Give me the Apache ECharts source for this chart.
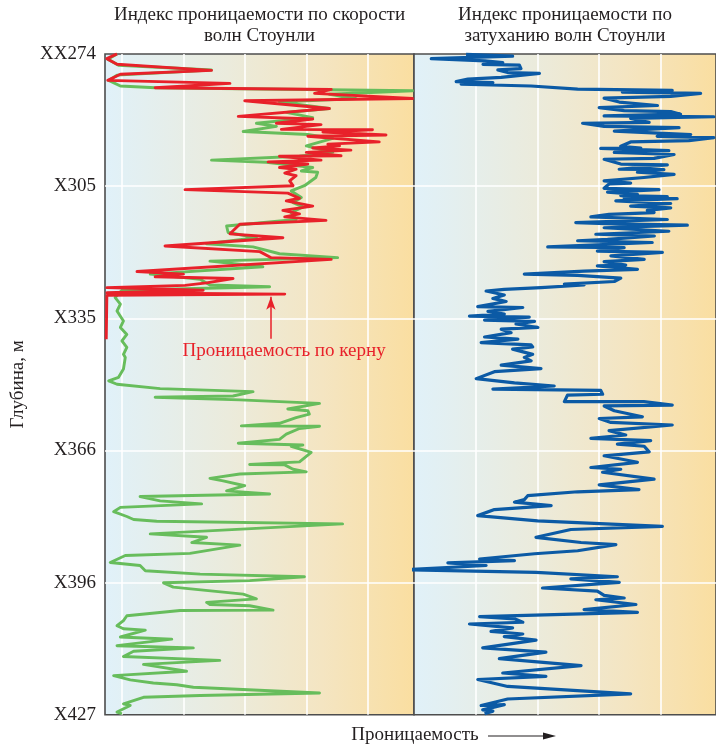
<!DOCTYPE html>
<html><head><meta charset="utf-8">
<script src="https://cdn.jsdelivr.net/npm/echarts@6/dist/echarts.min.js"></script>
<style>html,body{margin:0;padding:0;background:#fff}#c{width:716px;height:746px}</style>
</head><body><div id="c"></div>
<script>
// Depth axis (m): ticks every 30.48 m (100 ft)
const depthTickLabels = ['XX274', 'X305', 'X335', 'X366', 'X396', 'X427'];
const depthMin = 274.32;
const depthStep = 30.48;

// Core permeability (red), index units
const coreIndex = [-1.6,-4.9,-1.6,29.1,-0.5,-4.6,35.1,10.8,68,62.6,94.4,39.9,67.4,37.8,62,50.2,64.7,51.8,81.4,65.3,85.8,60.4,83.6,66.9,70.7,62,74.4,59.9,71.2,51.2,64.7,47.5,60.4,51.2,56.6,52.9,56.6,54.5,55.6,20.5,53.9,57.7,53.4,62,52.3,57.7,52.9,66.3,38.3,35.1,52.3,14.0,44.8,48.5,68,4.9,20,10.8,36.1,27.5,20.5,-4.9,26.4,-4.9,52.9,-4.9,-5.1];
const coreDepth = [274.3,275.4,276.7,278.1,279.0,280.4,281.1,282.1,282.5,283.4,284.6,285.1,286.9,288.7,289.3,290.3,290.6,291.7,291.8,292.3,293.0,293.3,294.6,295.1,295.5,296.0,296.5,297.0,297.8,297.9,298.8,299.2,299.7,300.5,300.9,301.8,302.4,303.6,304.7,305.6,306.4,307.6,308.2,309.4,310.4,311.2,311.9,312.7,313.6,315.8,316.7,318.6,319.9,321.3,321.7,324.5,325.1,325.7,326.1,327.1,327.7,328.2,328.8,329.4,329.7,330.0,340.1];

// Stoneley velocity permeability index (green)
const velIndex = [-1.6,-4.6,-1.1,29.1,-1.6,-4.3,-0.5,10.8,94.4,67.4,76.1,51.2,67.4,53.4,62,43.7,50.2,39.4,60.4,68.5,59.9,68.5,57.7,29.1,46.9,62,58.3,63.6,63,59.3,55,58.3,55.6,58.8,55,56.6,34,34.5,43.7,27.5,42.6,51.2,70.1,28.6,45.8,9.2,25.4,28.6,48,0,-2.2,-0.5,-1.6,0.5,-0.5,1.6,0,1.6,0.5,1.1,0.5,-1.1,-4.3,-1.6,12.4,42.6,36.1,10.8,38.3,64.2,53.9,60.4,60.9,56.6,51.2,38.8,64.2,57.7,53.4,51.2,37.8,58.8,55,61.5,57.7,41.5,52.9,55.6,59.9,38.3,28.6,32.9,39.9,34,48,5.9,12.4,25.9,-0.5,-2.7,1.6,3.8,11.3,71.7,9.2,27.5,22.7,38.3,22.1,1.1,-3.8,5.9,7.6,25.4,59.3,41.5,13.5,16.7,39.4,43.7,27.5,28.6,41.5,49.1,18.9,1.6,0.5,-1.6,0.5,7.6,-0.5,16.2,-1.6,23.2,3.8,0.5,31.8,7,21,-2.7,2.7,10.2,17.8,23.2,64.2,25.4,7,0.5,2.7,-1.6,0];
const velDepth = [274.3,275.5,276.9,278.0,279.2,280.4,281.7,282.1,282.8,283.6,284.6,285.4,286.9,287.8,289.0,290.3,291.0,292.2,292.9,293.8,295.5,297.0,297.9,298.8,299.3,300.5,301.3,301.6,302.8,304.7,305.9,307.4,308.6,309.6,310.9,312.5,314.0,315.5,316.7,318.1,318.8,320.4,321.3,322.1,323.4,325.1,326.3,327.6,328.0,328.8,330.5,332.0,333.6,335.9,337.4,339.0,340.5,342.0,343.6,344.3,347.0,348.9,349.7,350.5,351.5,352.2,353.2,353.5,354.1,354.9,356.2,356.6,357.4,358.2,359.5,360.1,360.2,360.7,362.0,363.2,364.1,364.5,364.8,366.2,368.4,369.0,369.1,370.1,370.7,371.2,372.2,372.8,373.9,375.1,375.8,376.4,377.4,378.1,378.9,379.9,381.0,381.7,382.1,382.7,385.0,385.8,387.0,387.6,389.5,390.0,391.6,392.3,393.5,394.3,394.9,395.8,396.3,397.3,398.9,400.0,400.8,401.3,401.6,402.6,402.7,403.9,405.0,406.2,406.9,407.2,408.8,409.3,410.8,411.3,412.1,413.3,414.2,415.1,416.7,417.7,418.7,419.4,419.8,420.4,421.7,422.3,422.7,424.2,424.6,426.1,426.5];

// Stoneley attenuation permeability index (blue)
const attIndex = [16.9,32,5.6,23,28.8,22.4,34.2,34.7,27.2,30.4,40.7,28.3,17.5,13.7,25.6,15.3,38,53.1,83.8,67.6,93,83.3,61.7,66.6,79,60.1,68.2,83.3,86.5,61.7,97.3,70.3,76.3,54.7,61.7,86,65,89.8,78.9,97.3,89.2,70.3,67.1,73.6,60.6,82.7,65,84.4,77.9,61.7,67.1,82.2,66.6,81.1,72.5,84.4,74.6,61.7,70.3,63.3,61.7,79.5,62.8,72.5,67.1,82.2,68.2,85.4,65.5,83.3,70.3,83.3,75.7,77.9,63.3,57.4,82.2,52.5,65,88.7,61.7,82.7,59,78,62.8,53.1,77.3,43.4,68.2,59.5,80.6,63.9,74.7,61.7,68.7,59.5,72.5,55.2,35.8,53.1,67.1,65,48.8,55.2,41.2,29.3,23.4,29.3,25.6,29.9,20.7,35.3,24,29.3,18,37.4,22.9,39.1,33.1,40.2,28.3,31.5,22.9,33.7,21.8,38,38.5,32,38.5,35.8,38,28.3,41.2,26.1,20.2,32.6,45.5,25.6,60.6,61.2,49.8,48.8,74.6,83.8,61.7,65,74.1,60.1,63.9,83.8,63.3,68.7,57.4,76.8,66,74.7,76.3,61.7,72.5,57.4,67.1,61.2,77.9,60.1,73,53.1,36.9,35.8,32.6,44.5,26.1,20.7,40.1,80.6,50.9,39.6,54.2,65.5,53.1,39.1,21.3,32.6,11,23.4,-3.0,39.6,66,50.9,66.6,41.7,59.5,61.7,68.2,59,72,55.2,72.5,21.3,32.6,35.3,18,32,25,35.3,29.3,39.6,22.3,42.8,27.7,54.2,28.8,42.8,20.7,30.4,70.3,30.4,21.8,29.3,22.3,25.6,22.9];
const attDepth = [274.4,274.8,275.4,275.9,276.3,276.7,276.9,277.7,278.0,278.6,278.8,279.7,280.1,280.7,280.9,281.3,281.7,282.4,282.7,283.1,283.4,284.1,284.5,285.4,286.2,286.7,287.4,287.6,288.2,288.6,288.8,289.2,290.1,290.3,291.0,291.3,292.1,292.9,293.3,293.6,294.3,294.6,295.6,296.0,296.1,296.6,297.0,297.5,298.4,298.6,299.7,299.9,300.9,301.0,301.6,302.1,302.8,303.6,304.1,304.3,305.3,305.6,306.2,306.7,307.0,307.2,307.5,307.7,308.2,308.8,309.4,309.8,310.4,310.9,311.3,311.9,312.5,313.2,313.5,313.8,314.4,315.2,315.9,316.3,317.1,317.4,317.8,318.8,319.0,319.8,320.1,320.9,321.7,322.2,323.0,323.2,324.0,324.4,325.1,325.4,326.0,326.8,327.4,327.6,328.2,328.6,329.0,329.9,330.7,331.4,332.6,332.8,333.7,334.3,334.8,335.0,335.7,336.0,336.6,337.4,337.8,338.6,339.6,340.1,340.9,341.4,341.9,342.4,343.6,344.3,345.1,346.1,346.9,347.6,349.2,350.2,350.9,351.6,351.9,352.8,353.0,354.5,354.5,355.3,355.5,356.6,358.0,358.4,359.3,359.9,361.2,362.2,363.0,363.5,364.3,364.8,366.1,367.0,368.5,369.7,370.1,370.8,372.4,373.7,374.8,375.3,376.2,377.1,377.7,378.5,379.4,380.8,382.0,383.3,384.0,385.8,387.0,387.5,388.9,389.6,390.8,391.2,391.7,392.3,393.3,393.9,394.9,395.4,396.2,397.5,398.2,399.2,399.8,400.2,401.3,402.5,403.1,404.1,404.6,405.4,405.8,406.7,407.5,408.1,408.7,409.5,411.3,412.3,413.8,415.4,417.1,417.9,418.6,420.2,421.9,423.1,424.6,424.4,425.6,425.9,426.5];

// Annotation (core arrow)
const coreArrowIndex = 48.4;
const coreArrowFrom = 340.0;
const coreArrowTo = 330.3;
const coreNoteText = 'Проницаемость по керну';
const coreNotePos = [52.7, 342.8];

const titles = ['Индекс проницаемости по скорости\nволн Стоунли', 'Индекс проницаемости по\nзатуханию волн Стоунли'];
const depthName = 'Глубина, м';
const xName = 'Проницаемость';

const FONT = '"Liberation Serif", "Times New Roman", serif';
const FS = 19;
const TXT = '#231f20';
const pairs = (xs, ys) => xs.map((v, i) => [v, ys[i]]);

const chart = echarts.init(document.getElementById('c'));
const bg = () => new echarts.graphic.LinearGradient(0, 0, 1, 0, [
  { offset: 0, color: '#e0f1f9' },
  { offset: 0.4, color: '#ebebdc' },
  { offset: 0.7, color: '#f4e5c2' },
  { offset: 1, color: '#fadea0' }
]);
const split = { show: true, showMinLine: false, showMaxLine: false, lineStyle: { color: '#ffffff', width: 1.6 } };
const gridCommon = { top: 52.7, height: 662, show: true, borderColor: '#4d4d4d', borderWidth: 1.6 };

function xAx(idx, min, max, name) {
  return {
    gridIndex: idx, type: 'value', min: min, max: max, position: 'top',
    name: name, nameLocation: 'middle', nameGap: 7,
    nameTextStyle: { fontFamily: FONT, fontSize: FS, color: TXT, lineHeight: 21, verticalAlign: 'bottom' },
    axisLine: { show: false }, axisTick: { show: false }, axisLabel: { show: false },
    splitLine: split
  };
}
function yAx(idx, showLabels) {
  return {
    gridIndex: idx, type: 'value', inverse: true,
    min: depthMin, max: depthMin + 5 * depthStep, interval: depthStep,
    name: showLabels ? depthName : '', nameLocation: 'middle', nameGap: 77, nameRotate: 90,
    nameTextStyle: { fontFamily: FONT, fontSize: FS, color: TXT },
    axisLine: { show: false }, axisTick: { show: false },
    axisLabel: {
      show: showLabels, margin: 9, fontFamily: FONT, fontSize: FS, color: TXT,
      formatter: v => depthTickLabels[Math.round((v - depthMin) / depthStep)]
    },
    splitLine: split
  };
}

chart.setOption({
  animation: false,
  backgroundColor: '#ffffff',
  grid: [
    Object.assign({ left: 105, width: 309, backgroundColor: bg() }, gridCommon),
    Object.assign({ left: 414, width: 303, backgroundColor: bg() }, gridCommon)
  ],
  xAxis: [xAx(0, -5.5, 94.9, titles[0]), xAx(1, 0, 98, titles[1])],
  yAxis: [yAx(0, true), yAx(1, false)],
  series: [
    {
      name: 'vel', type: 'line', xAxisIndex: 0, yAxisIndex: 0,
      data: pairs(velIndex, velDepth), showSymbol: false, symbol: 'none',
      lineStyle: { color: '#67bd5c', width: 2.9, join: 'round' }
    },
    {
      name: 'core', type: 'line', xAxisIndex: 0, yAxisIndex: 0,
      data: pairs(coreIndex, coreDepth), showSymbol: false, symbol: 'none',
      lineStyle: { color: '#e8212a', width: 2.9, join: 'round' },
      markLine: {
        silent: true, symbol: ['none', 'arrow'], symbolSize: [7, 13],
        label: { show: false },
        lineStyle: { color: '#e8212a', width: 1.5, type: 'solid' },
        data: [[{ coord: [coreArrowIndex, coreArrowFrom] }, { coord: [coreArrowIndex, coreArrowTo] }]]
      },
      markPoint: {
        silent: true, symbol: 'rect', symbolSize: 1,
        itemStyle: { color: 'rgba(0,0,0,0)' },
        label: { show: true, position: 'inside', formatter: coreNoteText, color: '#e8212a', fontFamily: FONT, fontSize: FS },
        data: [{ coord: coreNotePos }]
      }
    },
    {
      name: 'att', type: 'line', xAxisIndex: 1, yAxisIndex: 1, clip: false,
      data: pairs(attIndex, attDepth), showSymbol: false, symbol: 'none',
      lineStyle: { color: '#0b5aa5', width: 3.2, join: 'round' }
    }
  ],
  graphic: [
    { type: 'text', x: 415, y: 735, style: { text: xName, font: FS + 'px ' + FONT, fill: TXT, align: 'center', verticalAlign: 'middle', textAlign: 'center', textVerticalAlign: 'middle' } },
    { type: 'line', shape: { x1: 488, y1: 736, x2: 547, y2: 736 }, style: { stroke: TXT, lineWidth: 1.2 } },
    { type: 'polygon', shape: { points: [[556, 736], [543, 732.5], [543, 739.5]] }, style: { fill: TXT } }
  ]
});
</script></body></html>
